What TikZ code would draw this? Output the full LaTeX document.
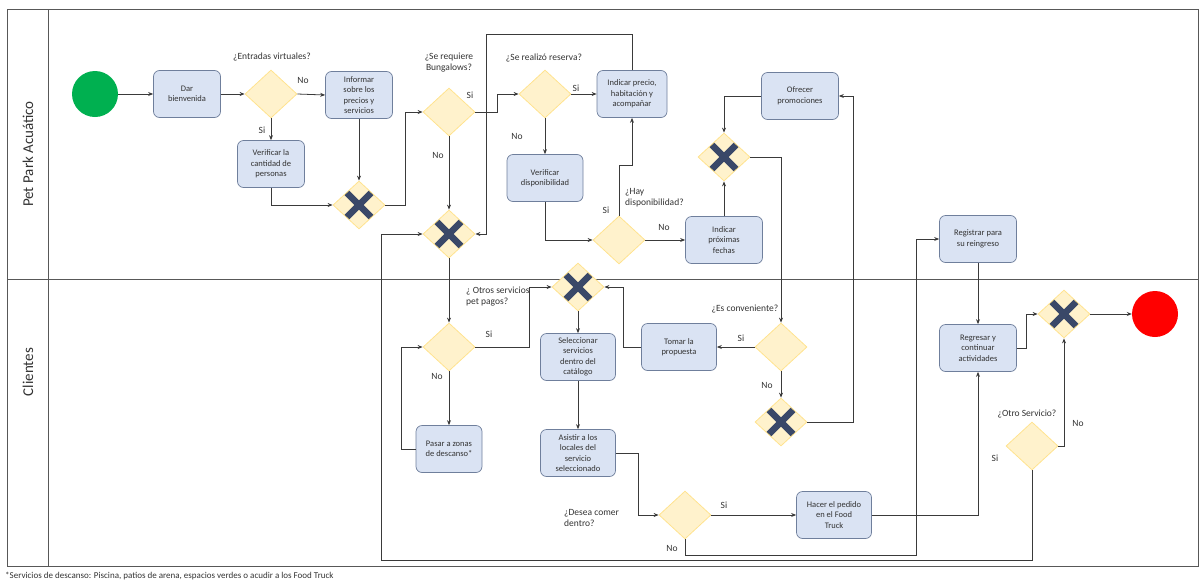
\documentclass[tikz,border=0pt]{standalone}
\usepackage{fontspec}
\setmainfont{Carlito}
\usetikzlibrary{shapes.geometric,arrows.meta,calc}
\definecolor{boxfill}{HTML}{DAE3F3}
\definecolor{boxdraw}{HTML}{6F7F9C}
\definecolor{dfill}{HTML}{FFF2CC}
\definecolor{ddraw}{HTML}{FFE38F}
\definecolor{xcol}{HTML}{3A4868}
\definecolor{lin}{HTML}{3A3A3A}
\definecolor{txt}{HTML}{333333}
\definecolor{startc}{HTML}{00B050}
\definecolor{endcol}{HTML}{FF0000}
\begin{document}
\begin{tikzpicture}[x=1pt,y=-1pt,
 task/.style={draw=boxdraw, fill=boxfill, rounded corners=6pt, line width=0.7pt, minimum width=#1, minimum height=47pt, align=center, font=\fontsize{8.5}{10.5}\selectfont, text=txt, inner sep=1pt},
 task/.default=67pt,
 dec/.style={shape=diamond, draw=ddraw, fill=dfill, line width=0.8pt, minimum width=52pt, minimum height=48pt, inner sep=0pt},
 xgw/.style={dec, path picture={\draw[xcol, line width=6.5pt] ($(path picture bounding box.center)+(-13,-13)$) -- ($(path picture bounding box.center)+(13,13)$) ($(path picture bounding box.center)+(-13,13)$) -- ($(path picture bounding box.center)+(13,-13)$);}},
 lbl/.style={font=\fontsize{9.5}{11}\selectfont, text=txt, inner sep=0pt},
 arr/.style={draw=lin, line width=0.8pt, -{Stealth[length=5pt,width=4pt]}},
 lanestyle/.style={draw=lin!85, line width=1pt},
 circ/.style={circle, minimum size=46pt, inner sep=0pt, draw=none},
]
\useasboundingbox (0,0) rectangle (1202,584);
% pool
\draw[lanestyle] (7,9) rectangle (1198,566);
\draw[lanestyle] (48,9) -- (48,566);
\draw[lanestyle] (7,279) -- (1198,279);
\node[rotate=90, font=\fontsize{15}{18}\selectfont, text=txt] (lane1) at (28,154) {Pet Park Acuático};
\node[rotate=90, font=\fontsize{15}{18}\selectfont, text=txt] (lane2) at (28,372) {Clientes};

% nodes
\node[circ, fill=startc] (start) at (95,94) {};
\node[task] (bienv) at (187,94) {Dar\\bienvenida};
\node[dec] (d1) at (271,94) {};
\node[task] (inform) at (359,95) {Informar\\sobre los\\precios y\\servicios};
\node[task] (verif1) at (271,164) {Verificar la\\cantidad de\\personas};
\node[xgw] (gw1) at (359,205) {};
\node[dec] (d2) at (449,112) {};
\node[xgw] (gw2) at (449,234) {};
\node[dec] (d3) at (545,94) {};
\node[task=70pt] (precio) at (632,94) {Indicar precio,\\habitación y\\acompañar};
\node[task=76pt] (vdisp) at (545,178) {Verificar\\disponibilidad};
\node[dec] (d4) at (619,240) {};
\node[task=77pt] (fechas) at (724,240) {Indicar\\próximas\\fechas};
\node[xgw] (gw5) at (724,157) {};
\node[task=77pt] (promo) at (800,96) {Ofrecer\\promociones};
\node[task=77pt] (regist) at (978,239) {Registrar para\\su reingreso};
\node[xgw] (gw3) at (578,287) {};
\node[dec] (d5) at (449,347) {};
\node[task=66pt] (pasar) at (449,449) {Pasar a zonas\\de descanso*};
\node[task=75pt] (selec) at (578,357) {Seleccionar\\servicios\\dentro del\\catálogo};
\node[task=75pt] (asist) at (578,453) {Asistir a los\\locales del\\servicio\\seleccionado};
\node[dec] (d8) at (781,347) {};
\node[task=75pt] (tomar) at (679,347) {Tomar la\\propuesta};
\node[xgw] (gw6) at (781,422) {};
\node[dec] (d6) at (685,515) {};
\node[task=75pt] (hacer) at (834,515) {Hacer el pedido\\en el Food\\Truck};
\node[task=77pt] (regres) at (978,348) {Regresar y\\continuar\\actividades};
\node[xgw] (gw4) at (1064,314) {};
\node[circ, fill=endcol] (fin) at (1155,314) {};
\node[dec] (d7) at (1032,446) {};

% labels
\node[lbl] (l1) at (272,57) {¿Entradas virtuales?};
\node[lbl] (l1n) at (303,80) {No};
\node[lbl] (l1s) at (262,130) {Si};
\node[lbl, align=center] (l2) at (449,63) {¿Se requiere\\Bungalows?};
\node[lbl] (l2s) at (470,95) {Si};
\node[lbl] (l2n) at (438,155) {No};
\node[lbl] (l3) at (544,58) {¿Se realizó reserva?};
\node[lbl] (l3s) at (576,88) {Si};
\node[lbl] (l3n) at (517,136) {No};
\node[lbl, align=left, anchor=west] (l4) at (625,198) {¿Hay\\disponibilidad?};
\node[lbl] (l4s) at (606,210) {Si};
\node[lbl] (l4n) at (664,227) {No};
\node[lbl, align=left, anchor=west] (l5) at (466,297) {¿ Otros servicios\\pet pagos?};
\node[lbl] (l5s) at (489,334) {Si};
\node[lbl] (l5n) at (437,376) {No};
\node[lbl] (l8) at (745,309) {¿Es conveniente?};
\node[lbl] (l8s) at (741,338) {Si};
\node[lbl] (l8n) at (767,385) {No};
\node[lbl, align=left, anchor=west] (l6) at (564,518) {¿Desea comer\\dentro?};
\node[lbl] (l6s) at (724,505) {Si};
\node[lbl] (l6n) at (672,548) {No};
\node[lbl] (l7) at (1027,414) {¿Otro Servicio?};
\node[lbl] (l7n) at (1078,423) {No};
\node[lbl] (l7s) at (995,458) {Si};
\node[font=\fontsize{9}{10}\selectfont, text=txt, anchor=west, inner sep=0pt] (foot) at (5,576) {*Servicios de descanso: Piscina, patios de arena, espacios verdes o acudir a los Food Truck};

% helper coordinates
\coordinate (topc) at (486,34);
\coordinate (c6) at (916,555);
\coordinate (c7) at (381,560);

% connectors
\draw[arr] (start) -- (bienv);
\draw[arr] (bienv) -- (d1);
\draw[arr] (d1.east) -- (inform.west);
\draw[arr] (d1.south) -- (verif1.north);
\draw[arr] (verif1.south) |- (gw1.west);
\draw[arr] (inform.south) -- (gw1.north);
\draw[arr] (gw1.east) -- ++(20,0) |- (d2.west);
\draw[arr] (d2.south) -- (gw2.north);
\draw[arr] (d2.east) -- ++(22,0) |- (d3.west);
\draw[arr] (d3.east) -- (precio.west);
\draw[arr] (d3.south) -- (vdisp.north);
\draw[arr] (vdisp.south) |- (d4.west);
\draw[arr] (d4.north) -- ++(0,-50) -| (precio.south);
\draw[arr] (d4.east) -- (fechas.west);
\draw[arr] (fechas.north) -- (gw5.south);
\draw[arr] (promo.west) -| (gw5.north);
\draw[arr] (gw5.east) -| (d8.north);
\draw[arr] (d8.west) -- (tomar.east);
\draw[arr] (tomar.west) -- ++(-18,0) |- (gw3.east);
\draw[arr] (d8.south) -- (gw6.north);
\draw[arr] (gw6.east) -- ++(46,0) |- (promo.east);
\draw[arr] (precio.north) |- (topc) |- (gw2.east);
\draw[arr] (gw2.south) -- (d5.north);
\draw[arr] (d5.east) -- ++(54,0) |- (gw3.west);
\draw[arr] (d5.south) -- (pasar.north);
\draw[arr] (pasar.west) -- ++(-14,0) |- (d5.west);
\draw[arr] (gw3.south) -- (selec.north);
\draw[arr] (selec.south) -- (asist.north);
\draw[arr] (asist.east) -- ++(23,0) |- (d6.west);
\draw[arr] (d6.east) -- (hacer.west);
\draw[arr] (d6.south) |- (c6) |- (regist.west);
\draw[arr] (hacer.east) -| (regres.south);
\draw[arr] (regist.south) -- (regres.north);
\draw[arr] (regres.east) -- ++(10,0) |- (gw4.west);
\draw[arr] (gw4.east) -- (fin.west);
\draw[arr] (d7.east) -| (gw4.south);
\draw[arr] (d7.south) |- (c7) |- (gw2.west);
\end{tikzpicture}
\end{document}
